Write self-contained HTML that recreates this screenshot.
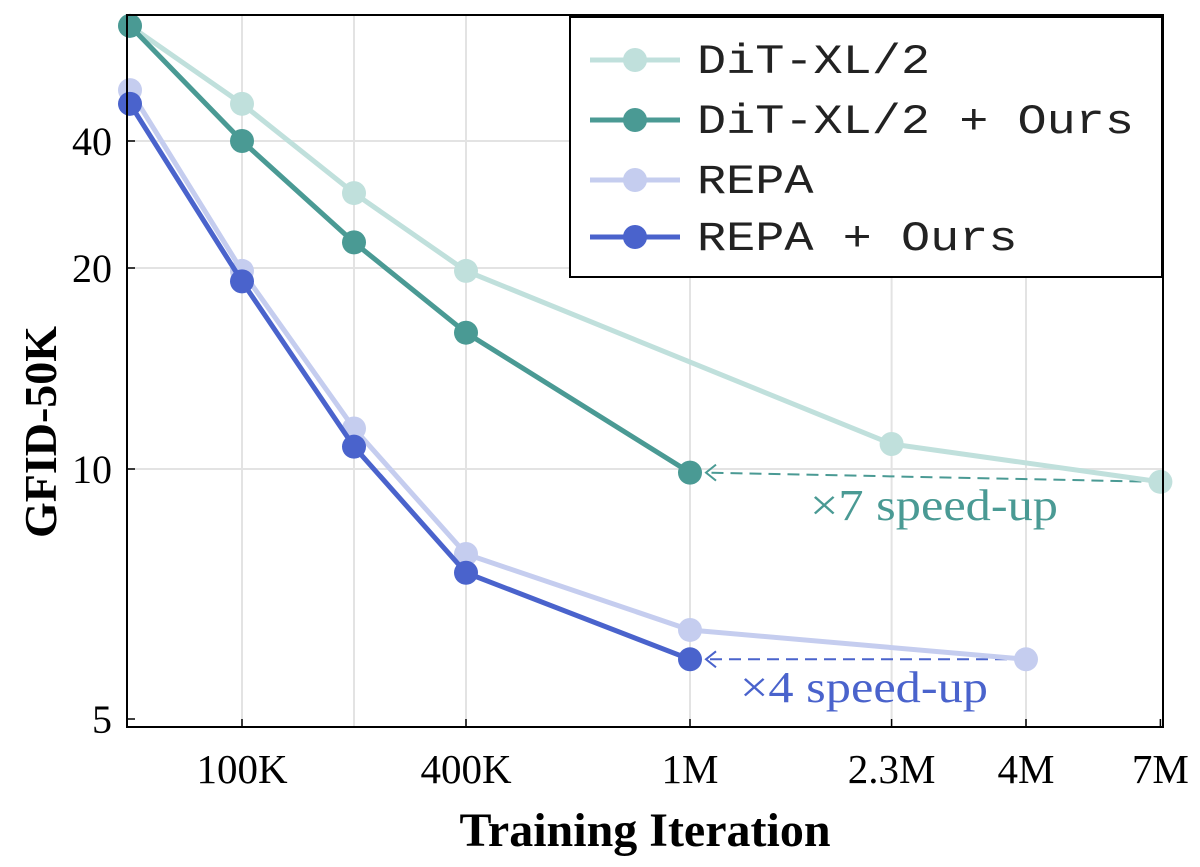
<!DOCTYPE html>
<html><head><meta charset="utf-8"><style>
body{margin:0;background:#fff}
svg text{font-family:"Liberation Serif",serif}
</style></head><body>
<svg id="chart" width="1200" height="862" xmlns="http://www.w3.org/2000/svg"></svg>
<script>
const iterLabels=["50K","100K","200K","400K","1M","2.3M","4M","7M"];
const slotPos=[0,1,2,3,5,6.8,8,9.2];
const xTickLabels=["100K","400K","1M","2.3M","4M","7M"];
const xTickIdx=[1,3,4,5,6,7];
const gridIdx=[1,2,3,4,5,6];
const yTicks=[5,10,20,40];
const ditIdx=[0,1,2,3,5,7];
const ditVals=[75,49,30.1,19.8,10.9,9.65];
const ditOursIdx=[0,1,2,3,4];
const ditOursVals=[75,40,23,16.0,9.9];
const repaIdx=[0,1,2,3,4,6];
const repaVals=[52.8,19.8,11.5,7.9,6.4,5.9];
const repaOursIdx=[0,1,2,3,4];
const repaOursVals=[49,19.1,10.8,7.5,5.9];

const svg=document.getElementById('chart');
const NS="http://www.w3.org/2000/svg";
function el(t,a,p){const e=document.createElementNS(NS,t);for(const k in a)e.setAttribute(k,a[k]);(p||svg).appendChild(e);return e;}
const L=127,R=1163,T=15,B=727;
function xs(i){return 130+112*slotPos[i];}
const anchV=[5,10,20,40],anchP=[719,469,268,141];
function ys(v){const lv=Math.log2(v);
 for(let k=0;k<3;k++){const a=Math.log2(anchV[k]),b=Math.log2(anchV[k+1]);
  if(lv<=b||k==2){return anchP[k]+(lv-a)/(b-a)*(anchP[k+1]-anchP[k]);}}
}
gridIdx.forEach(i=>{const g=el('line',{x1:xs(i),x2:xs(i),y1:T,y2:B,stroke:'#e3e3e3','stroke-width':2});
});
yTicks.slice(1).forEach(v=>{const g=el('line',{x1:L,x2:R,y1:ys(v),y2:ys(v),stroke:'#e3e3e3','stroke-width':2});
});
yTicks.forEach(v=>{const t=el('text',{x:112,y:ys(v)+14,'text-anchor':'end','font-size':40});t.textContent=v;

el('line',{x1:L,x2:L+8,y1:ys(v),y2:ys(v),stroke:'#000','stroke-width':1.5});});
xTickLabels.forEach((s,k)=>{const x=xs(xTickIdx[k]);const t=el('text',{x:x,y:783,'text-anchor':'middle','font-size':41});t.textContent=s;

el('line',{x1:x,x2:x,y1:B,y2:B-8,stroke:'#000','stroke-width':1.5});});
function ann(x1,y1,x2,y2,c,txt,tx,ty,name){
 const g=el('g',{});
 el('line',{x1:x1,y1:y1,x2:x2+6,y2:y2,stroke:c,'stroke-width':2,'stroke-dasharray':'12,7'},g);
 el('path',{d:`M${x2+14},${y2-8} L${x2+4},${y2} L${x2+14},${y2+8}`,fill:'none',stroke:c,'stroke-width':2},g);
 const t=el('text',{x:tx,y:ty,'font-size':44,fill:c,textLength:248,lengthAdjust:'spacingAndGlyphs'},g);t.textContent=txt;}
ann(xs(7),ys(ditVals[5]),xs(4)+12,ys(ditOursVals[4]),'#4a9a94','×7 speed-up',810,520,'dit-speedup-annotation');
ann(xs(6),ys(repaVals[5]),xs(4)+12,ys(repaOursVals[4]),'#4a63cc','×4 speed-up',740,702,'repa-speedup-annotation');
function series(idx,vals,c,name){const g=el('g',{});
 el('polyline',{points:idx.map((i,k)=>xs(i)+','+ys(vals[k])).join(' '),fill:'none',stroke:c,'stroke-width':5,'stroke-linejoin':'round'},g);
 idx.forEach((i,k)=>{const m=el('circle',{cx:xs(i),cy:ys(vals[k]),r:12,fill:c},g);
 });}
series(ditIdx,ditVals,'#c0e0dc','dit-series');
series(repaIdx,repaVals,'#c5cdef','repa-series');
series(ditOursIdx,ditOursVals,'#4a9a94','dit-ours-series');
series(repaOursIdx,repaOursVals,'#4a63cc','repa-ours-series');
el('rect',{x:L,y:T,width:R-L,height:B-T,fill:'none',stroke:'#000','stroke-width':2});
const lg=el('g',{});
el('rect',{x:570,y:17,width:592,height:260,fill:'#fff',stroke:'#000','stroke-width':2},lg);
const legNames=["DiT-XL/2","DiT-XL/2 + Ours","REPA","REPA + Ours"];
const legCols=['#c0e0dc','#4a9a94','#c5cdef','#4a63cc'];
const legY=[60,120,180,237];
legNames.forEach((n,k)=>{const g=el('g',{},lg);
 el('line',{x1:590,x2:680,y1:legY[k],y2:legY[k],stroke:legCols[k],'stroke-width':5},g);
 el('circle',{cx:635,cy:legY[k],r:12,fill:legCols[k]},g);
 const t=el('text',{x:697,y:legY[k]+13,'font-size':42,fill:'#222',textLength:(437/15*n.length).toFixed(1),lengthAdjust:'spacingAndGlyphs',style:'font-family:"Liberation Mono",monospace'},g);t.textContent=n;});
const xt=el('text',{x:645,y:846,'text-anchor':'middle','font-size':48,'font-weight':'bold'});xt.textContent='Training Iteration';

const yt=el('text',{x:0,y:0,'text-anchor':'middle','font-size':46,'font-weight':'bold',transform:'translate(56,432) rotate(-90)'});yt.textContent='GFID-50K';

</script>
</body></html>
